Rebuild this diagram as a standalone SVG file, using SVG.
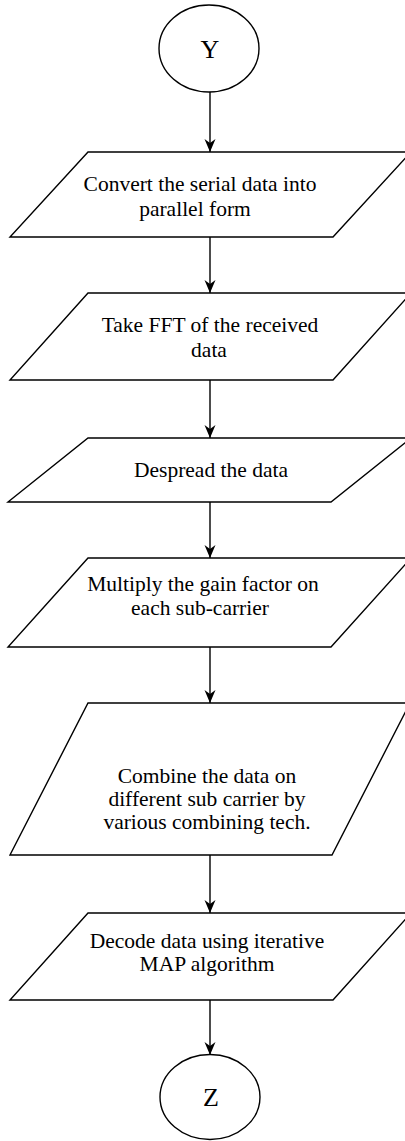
<svg xmlns="http://www.w3.org/2000/svg" width="405" height="1141" viewBox="0 0 405 1141">
  <style>
    .shape { fill: #ffffff; stroke: #000000; stroke-width: 1.4; }
    .label { font-family: "Liberation Serif", "Times New Roman", serif; font-size: 21.5px; fill: #000000; text-anchor: middle; }
    .term { font-family: "Liberation Serif", "Times New Roman", serif; font-size: 26px; fill: #000000; text-anchor: middle; }
    .edge { fill: none; stroke: #000000; stroke-width: 1.4; }
  </style>
  <defs>
    <marker id="arrow" viewBox="0 0 14 14" refX="13" refY="7" markerWidth="14" markerHeight="14" markerUnits="userSpaceOnUse" orient="auto">
      <path d="M13,7 L0,1.5 L4,7 L0,12.5 Z" fill="#000000"/>
    </marker>
  </defs>

  <rect width="405" height="1141" fill="#ffffff"/>

  <!-- connectors -->
  <g id="connectors">
    <line class="edge" x1="210" y1="92" x2="210" y2="152" marker-end="url(#arrow)"/>
    <line class="edge" x1="210" y1="237" x2="210" y2="293" marker-end="url(#arrow)"/>
    <line class="edge" x1="210" y1="380" x2="210" y2="438" marker-end="url(#arrow)"/>
    <line class="edge" x1="210" y1="502" x2="210" y2="558" marker-end="url(#arrow)"/>
    <line class="edge" x1="210" y1="647" x2="210" y2="703" marker-end="url(#arrow)"/>
    <line class="edge" x1="210" y1="855" x2="210" y2="913" marker-end="url(#arrow)"/>
    <line class="edge" x1="210" y1="1000" x2="210" y2="1055" marker-end="url(#arrow)"/>
  </g>

  <!-- start connector Y -->
  <g id="node-y">
    <ellipse class="shape" cx="209" cy="48.5" rx="50" ry="43.5"/>
    <text class="term" x="210" y="58">Y</text>
  </g>

  <g id="node-convert">
    <polygon class="shape" points="88,152 411,152 333,237 10,237"/>
    <text class="label" x="200" y="191">Convert the serial data into</text>
    <text class="label" x="195" y="216">parallel form</text>
  </g>

  <g id="node-fft">
    <polygon class="shape" points="88,293 411,293 333,380 10,380"/>
    <text class="label" x="210" y="332">Take FFT of the received</text>
    <text class="label" x="209" y="357">data</text>
  </g>

  <g id="node-despread">
    <polygon class="shape" points="88,438 411,438 331,502 8,502"/>
    <text class="label" x="211" y="477">Despread the data</text>
  </g>

  <g id="node-gain">
    <polygon class="shape" points="88,558 411,558 331,647 8,647"/>
    <text class="label" x="203" y="591">Multiply the gain factor on</text>
    <text class="label" x="200" y="615">each sub-carrier</text>
  </g>

  <g id="node-combine">
    <polygon class="shape" points="88,703 410,703 332,855 10,855"/>
    <text class="label" x="207" y="783">Combine the data on</text>
    <text class="label" x="207" y="806">different sub carrier by</text>
    <text class="label" x="207" y="829">various combining tech.</text>
  </g>

  <g id="node-decode">
    <polygon class="shape" points="88,913 411,913 333,1000 10,1000"/>
    <text class="label" x="207" y="948">Decode data using iterative</text>
    <text class="label" x="207" y="971">MAP algorithm</text>
  </g>

  <!-- end connector Z -->
  <g id="node-z">
    <ellipse class="shape" cx="210" cy="1097" rx="50" ry="42.5"/>
    <text class="term" x="211" y="1106">Z</text>
  </g>
</svg>
